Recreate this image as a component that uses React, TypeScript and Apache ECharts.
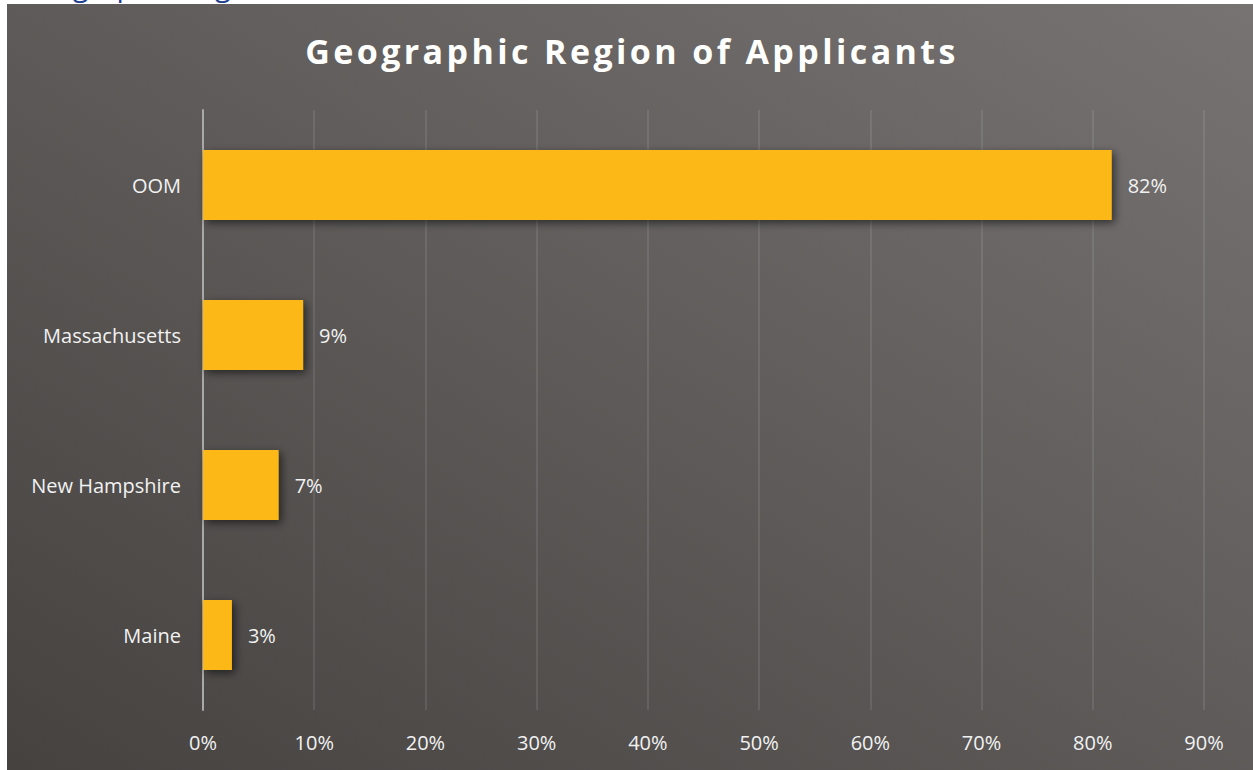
import React, { useEffect, useRef } from "react";
import * as echarts from "echarts";

const categories = ["Maine", "New Hampshire", "Massachusetts", "OOM"];
const shares = [0.026, 0.068, 0.09, 0.817];
const tickLabels = ["0%", "10%", "20%", "30%", "40%", "50%", "60%", "70%", "80%", "90%"];
const titleText = "Geographic Region of Applicants";
const headingText = "Geographic Region";

export default function App() {
  const ref = useRef<HTMLDivElement>(null);
  useEffect(() => {
    document.body.style.margin = "0";
    const chart = echarts.init(ref.current!, undefined, { renderer: "svg" });
    const font = "'Open Sans', sans-serif";
    chart.setOption({
      animation: false,
      backgroundColor: "#ffffff",
      graphic: [
        {
          type: "rect",
          z: -10,
          shape: { x: 7, y: 4, width: 1246, height: 766 },
          style: {
            fill: new echarts.graphic.LinearGradient(0, 1, 1, 0, [
              { offset: 0, color: "#454240" },
              { offset: 1, color: "#767372" },
            ]),
          },
        },
        {
          type: "text",
          z: -20,
          x: 18,
          y: -30,
          style: {
            text: headingText,
            fill: "#1f3f8f",
            font: "29px 'Open Sans', sans-serif",
            align: "left",
            verticalAlign: "top",
          },
        },
        {
          type: "text",
          x: 632,
          y: 34,
          style: {
            text: titleText,
            fill: "#fffffe",
            font: "bold 34px 'Open Sans', sans-serif",
            align: "center",
            verticalAlign: "top",
            shadowColor: "rgba(0,0,0,0.6)",
            shadowBlur: 4,
            shadowOffsetX: 2,
            shadowOffsetY: 2,
          },
        },
      ],
      grid: { left: 203, right: 49, top: 110, bottom: 60, containLabel: false },
      xAxis: {
        type: "value",
        min: 0,
        max: 0.9,
        interval: 0.1,
        axisLine: { show: false },
        axisTick: { show: false },
        splitLine: { show: true, lineStyle: { color: "rgba(255,255,255,0.13)", width: 1.5 } },
        axisLabel: {
          color: "#f2f2f2",
          fontFamily: font,
          fontSize: 20,
          margin: 22,
          formatter: (v: number) => tickLabels[Math.round(v * 10)] ?? "",
        },
      },
      yAxis: {
        type: "category",
        data: categories,
        axisLine: { show: true, lineStyle: { color: "#a9a9a9", width: 2 } },
        axisTick: { show: false },
        splitLine: { show: false },
        axisLabel: {
          color: "#f2f2f2",
          fontFamily: font,
          fontSize: 20,
          margin: 22,
        },
      },
      series: [
        {
          type: "bar",
          data: shares,
          barWidth: 70,
          itemStyle: {
            color: "#fcb815",
            shadowColor: "rgba(0,0,0,0.55)",
            shadowBlur: 8,
            shadowOffsetX: 3,
            shadowOffsetY: 3,
          },
          label: {
            show: true,
            position: "right",
            distance: 16,
            color: "#f2f2f2",
            fontFamily: font,
            fontSize: 20,
            formatter: (p: any) => Math.round(p.value * 100) + "%",
          },
        },
      ],
    });
    return () => chart.dispose();
  }, []);
  return (
    <>
      <style>{`#geo-chart text[fill="#fffffe"] { letter-spacing: 3.4px; }`}</style>
      <div
        id="geo-chart"
        ref={ref}
        style={{ width: 1253, height: 770, position: "absolute", left: 0, top: 0 }}
      />
    </>
  );
}
